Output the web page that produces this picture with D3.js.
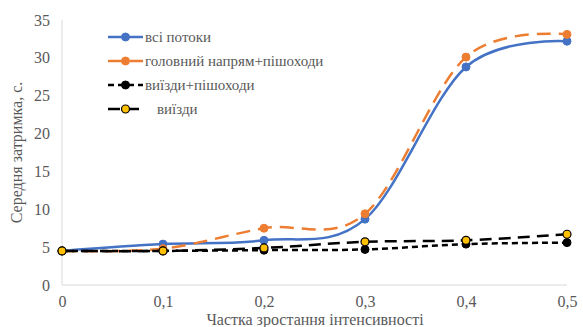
<!DOCTYPE html>
<html><head><meta charset="utf-8">
<script src="https://cdn.jsdelivr.net/npm/d3@7"></script>
<style>body{margin:0;background:#fff}svg{display:block}</style>
</head><body>
<svg id="c" width="583" height="327"></svg>
<script>
const xValues = [0, 0.1, 0.2, 0.3, 0.4, 0.5];
const xTickLabels = ["0", "0,1", "0,2", "0,3", "0,4", "0,5"];
const yTicks = [0, 5, 10, 15, 20, 25, 30, 35];
const seriesNames = ["всі потоки", "головний напрям+пішоходи", "виїзди+пішоходи", "виїзди"];
const allFlows = [4.5, 5.4, 5.9, 8.7, 28.8, 32.2];
const mainPed = [4.5, 4.8, 7.5, 9.4, 30.1, 33.1];
const exitsPed = [4.5, 4.5, 4.6, 4.7, 5.4, 5.6];
const exits = [4.5, 4.5, 4.9, 5.7, 5.9, 6.7];
const xTitle = "Частка зростання інтенсивності";
const yTitle = "Середня затримка, с.";

const series = [
  {name: seriesNames[0], values: allFlows, color: "#4472C4", dash: null, mfill: "#4472C4", mstroke: "#4472C4"},
  {name: seriesNames[1], values: mainPed, color: "#ED7D31", dash: "14,8", mfill: "#ED7D31", mstroke: "#ED7D31"},
  {name: seriesNames[2], values: exitsPed, color: "#000000", dash: "6,4", mfill: "#000000", mstroke: "#000000"},
  {name: seriesNames[3], values: exits, color: "#000000", dash: "12,7", mfill: "#FFC000", mstroke: "#000000"}
];

const FONT = '"Liberation Serif", "Times New Roman", serif';
const TXT = "#595959";
const svg = d3.select("#c");
const L = 62, R = 567, T = 20, B = 285;
const x = d3.scaleLinear().domain([0, 0.5]).range([L, R]);
const y = d3.scaleLinear().domain([0, 35]).range([B, T]);

svg.append("line").attr("x1", L).attr("x2", L).attr("y1", T).attr("y2", B).attr("stroke", "#D9D9D9").attr("stroke-width", 1);
svg.append("line").attr("x1", L).attr("x2", R).attr("y1", B).attr("y2", B).attr("stroke", "#D9D9D9").attr("stroke-width", 1);

const yAxis = d3.axisLeft(y).tickValues(yTicks).tickSize(0).tickPadding(12);
svg.append("g").attr("transform", `translate(${L},0)`).call(yAxis)
  .call(g => g.select(".domain").remove())
  .selectAll("text").style("font-family", FONT).style("font-size", "16px").style("fill", TXT);

const xAxis = d3.axisBottom(x).tickValues(xValues).tickFormat((d, i) => xTickLabels[i]).tickSize(0).tickPadding(11);
svg.append("g").attr("transform", `translate(0,${B})`).call(xAxis)
  .call(g => g.select(".domain").remove())
  .selectAll("text").style("font-family", FONT).style("font-size", "16px").style("fill", TXT);

svg.append("text").attr("x", 315).attr("y", 325).attr("text-anchor", "middle")
  .style("font-family", FONT).style("font-size", "16px").style("fill", TXT).text(xTitle);
svg.append("text").attr("transform", `translate(22,${(T + B) / 2}) rotate(-90)`).attr("text-anchor", "middle")
  .style("font-family", FONT).style("font-size", "16px").style("fill", TXT).text(yTitle);

const line = d3.line().x((d, i) => x(xValues[i])).y(d => y(d)).curve(d3.curveCatmullRom.alpha(0));

series.forEach(s => {
  svg.append("path").datum(s.values).attr("d", line).attr("fill", "none")
    .attr("stroke", s.color).attr("stroke-width", 2.5).attr("stroke-dasharray", s.dash);
  svg.append("g").selectAll("circle").data(s.values).join("circle")
    .attr("cx", (d, i) => x(xValues[i])).attr("cy", d => y(d)).attr("r", 4)
    .attr("fill", s.mfill).attr("stroke", s.mstroke).attr("stroke-width", s.mfill === "#FFC000" ? 1.2 : 1);
});

const lg = svg.append("g");
series.forEach((s, i) => {
  const yy = 37 + i * 24;
  lg.append("line").attr("x1", 108).attr("x2", 143).attr("y1", yy).attr("y2", yy)
    .attr("stroke", s.color).attr("stroke-width", 2.5).attr("stroke-dasharray", s.dash);
  lg.append("circle").attr("cx", 125.5).attr("cy", yy).attr("r", 4)
    .attr("fill", s.mfill).attr("stroke", s.mstroke).attr("stroke-width", s.mfill === "#FFC000" ? 1.2 : 1);
  lg.append("text").attr("x", i === 3 ? 157 : 145).attr("y", yy + 5)
    .style("font-family", FONT).style("font-size", "15px").style("fill", TXT).text(s.name);
});
</script>
</body></html>
